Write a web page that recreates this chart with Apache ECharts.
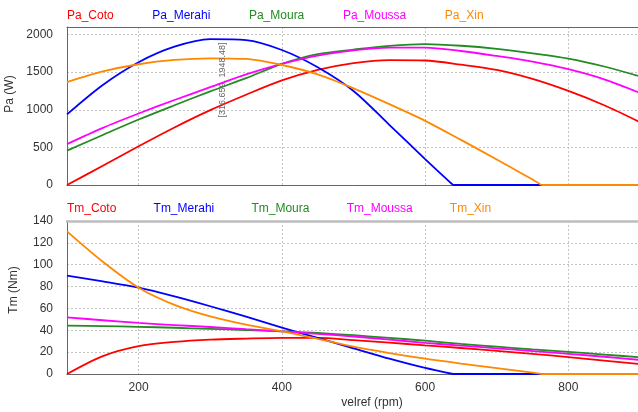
<!DOCTYPE html>
<html>
<head>
<meta charset="utf-8">
<script src="https://cdn.jsdelivr.net/npm/echarts@6/dist/echarts.min.js"></script>
<style>
  html, body { margin: 0; padding: 0; background: #fff; }
  #main { width: 638px; height: 412px; }
</style>
</head>
<body>
<div id="main"></div>
<script>
var myChart = echarts.init(document.getElementById('main'));

// speed reference (rpm)
var rpm = [100, 150, 200, 250, 300, 350, 400, 450, 500, 550, 600, 650, 700, 750, 800, 850, 900];

// mechanical power Pa (W)
var paCoto   = [0, 255, 515, 765, 995, 1200, 1390, 1530, 1620, 1660, 1655, 1600, 1530, 1410, 1250, 1060, 835];
var paMerahi = [939, 1330, 1632, 1838, 1939, 1925, 1794, 1565, 1250, 800, 345, 0, 0, 0, 0, 0, 0];
var paMoura  = [456, 665, 870, 1060, 1245, 1420, 1610, 1740, 1800, 1850, 1873, 1851, 1810, 1750, 1680, 1575, 1443];
var paMoussa = [544, 760, 950, 1130, 1300, 1470, 1610, 1720, 1789, 1825, 1825, 1781, 1715, 1640, 1540, 1405, 1224];
var paXin    = [1368, 1509, 1605, 1662, 1684, 1675, 1595, 1470, 1285, 1075, 853, 600, 340, 72, 0, 0, 0];

// torque Tm (Nm)
var tmCoto   = [0, 16.4, 25.5, 29.4, 31.5, 32.4, 33, 33, 31, 28.7, 26.2, 23.8, 21.2, 18.4, 15.5, 12.3, 9];
var tmMerahi = [90, 84.8, 79, 71, 62, 52.5, 42.5, 33, 23.5, 14, 5.5, 0, 0, 0, 0, 0, 0];
var tmMoura  = [44.2, 43.8, 43.2, 42.3, 41.3, 40.2, 39, 37.5, 35.5, 33, 30.5, 27.5, 25, 22.5, 20.3, 17.8, 15.3];
var tmMoussa = [51.8, 49.2, 46.7, 44.8, 43, 41, 39, 36.8, 34.3, 31.5, 28.5, 26, 23.5, 21, 18.5, 15.8, 12.9];
var tmXin    = [130.5, 102.7, 79, 63.3, 52.7, 45.1, 39.1, 32.2, 25, 19.2, 14, 9.5, 5.3, 1.2, 0, 0, 0];

// rpm where the curves reach zero
var merahiZero = 639;
var xinZero = 762;

// cursor readout on Pa_Merahi
var merahiPeak = [316.659, 1948.48];

var names = ['Coto', 'Merahi', 'Moura', 'Moussa', 'Xin'];
var colors = ['#ff0000', '#0000ff', '#228b22', '#ff00ff', '#ff8800'];
var zeros = [null, merahiZero, null, null, xinZero];

// split a curve in the part above zero and the flat tail at zero
function pairs(values, zeroAt) {
    var curve = [], tail = [];
    for (var i = 0; i < rpm.length; i++) {
        if (zeroAt && rpm[i] > zeroAt) {
            if (!tail.length) {
                curve.push([zeroAt, 0]);
                tail.push([zeroAt, 0]);
            }
            tail.push([rpm[i], values[i]]);
        } else {
            curve.push([rpm[i], values[i]]);
        }
    }
    return { curve: curve, tail: tail };
}

var paData = [paCoto, paMerahi, paMoura, paMoussa, paXin];
var tmData = [tmCoto, tmMerahi, tmMoura, tmMoussa, tmXin];

var font = 'Liberation Sans, Arial, sans-serif';
var gridLine = { show: true, lineStyle: { color: '#c4c4c4', type: [2, 2], width: 1 } };

function legendData(prefix) {
    return names.map(function (n, i) {
        return { name: prefix + n, icon: 'none', textStyle: { color: colors[i] } };
    });
}

function xAxisFor(gridIndex, withLabels) {
    return {
        type: 'value',
        gridIndex: gridIndex,
        min: 100,
        max: 900,
        splitNumber: 4,
        axisLine: { show: true, onZero: false, lineStyle: { color: '#666', width: 1 } },
        axisTick: { show: false },
        axisLabel: {
            show: withLabels, showMinLabel: false, showMaxLabel: false,
            color: '#333', fontSize: 12, fontFamily: font, margin: 8
        },
        splitLine: gridLine,
        name: withLabels ? 'velref (rpm)' : '',
        nameLocation: 'middle',
        nameGap: 23,
        nameTextStyle: { color: '#333', fontSize: 12, fontFamily: font, padding: [0, 0, 0, 37] }
    };
}

function topBorder(gridIndex, color, width) {
    return {
        type: 'value',
        gridIndex: gridIndex,
        position: 'top',
        min: 100,
        max: 900,
        axisLine: { show: true, onZero: false, lineStyle: { color: color, width: width } },
        axisTick: { show: false },
        axisLabel: { show: false },
        splitLine: { show: false }
    };
}

function addSeries(prefix, values, i, axisIndex) {
    var parts = pairs(values, zeros[i]);
    var base = {
        name: prefix + names[i],
        type: 'line',
        xAxisIndex: axisIndex,
        yAxisIndex: axisIndex,
        showSymbol: false,
        lineStyle: { color: colors[i], width: 1.8 },
        itemStyle: { color: colors[i] }
    };
    var s = Object.assign({}, base, { data: parts.curve, smooth: 0.3 });
    if (prefix === 'Pa_' && names[i] === 'Merahi') {
        s.markPoint = {
            symbol: 'circle',
            symbolSize: 0,
            data: [{ coord: merahiPeak }],
            label: {
                show: true,
                formatter: '[' + merahiPeak[0] + ', ' + merahiPeak[1] + ']',
                position: [0, 4],
                rotate: 90,
                align: 'right',
                verticalAlign: 'middle',
                color: '#666',
                fontSize: 9,
                fontFamily: font
            }
        };
    }
    series.push(s);
    if (parts.tail.length) {
        series.push(Object.assign({}, base, { data: parts.tail }));
    }
}

var series = [];
paData.forEach(function (v, i) { addSeries('Pa_', v, i, 0); });
tmData.forEach(function (v, i) { addSeries('Tm_', v, i, 1); });

var option = {
    animation: false,
    backgroundColor: '#fff',
    legend: [
        {
            data: legendData('Pa_'),
            left: 57, top: 5,
            itemWidth: 0, itemHeight: 0, itemGap: 33.6,
            textStyle: { fontSize: 12, fontFamily: font }
        },
        {
            data: legendData('Tm_'),
            left: 57, top: 198,
            itemWidth: 0, itemHeight: 0, itemGap: 32.2,
            textStyle: { fontSize: 12, fontFamily: font }
        }
    ],
    grid: [
        { left: 67, right: -2, top: 27, bottom: 227, outerBoundsMode: 'none', containLabel: false },
        { left: 67, right: -2, top: 221, bottom: 38, outerBoundsMode: 'none', containLabel: false }
    ],
    xAxis: [
        xAxisFor(0, false),
        xAxisFor(1, true),
        topBorder(0, '#666', 1),
        topBorder(1, '#bdbdbd', 2.5)
    ],
    yAxis: [
        {
            type: 'value',
            gridIndex: 0,
            min: 0,
            max: 2100,
            interval: 500,
            axisLine: { show: true, lineStyle: { color: '#666' } },
            axisTick: { show: false },
            axisLabel: {
                color: '#333', fontSize: 12, fontFamily: font, margin: 14, showMaxLabel: false,
                formatter: function (v) { return String(v); }
            },
            splitLine: gridLine,
            name: 'Pa (W)',
            nameLocation: 'middle',
            nameGap: 47,
            nameTextStyle: { color: '#333', fontSize: 12, fontFamily: font, padding: [0, 0, 0, 24] }
        },
        {
            type: 'value',
            gridIndex: 1,
            min: 0,
            max: 140,
            interval: 20,
            axisLine: { show: true, lineStyle: { color: '#666' } },
            axisTick: { show: false },
            axisLabel: { color: '#333', fontSize: 12, fontFamily: font, margin: 14 },
            splitLine: gridLine,
            name: 'Tm (Nm)',
            nameLocation: 'middle',
            nameGap: 47,
            nameTextStyle: { color: '#333', fontSize: 12, fontFamily: font, padding: [0, 0, 0, 15] }
        }
    ],
    series: series
};

myChart.setOption(option);
</script>
</body>
</html>
